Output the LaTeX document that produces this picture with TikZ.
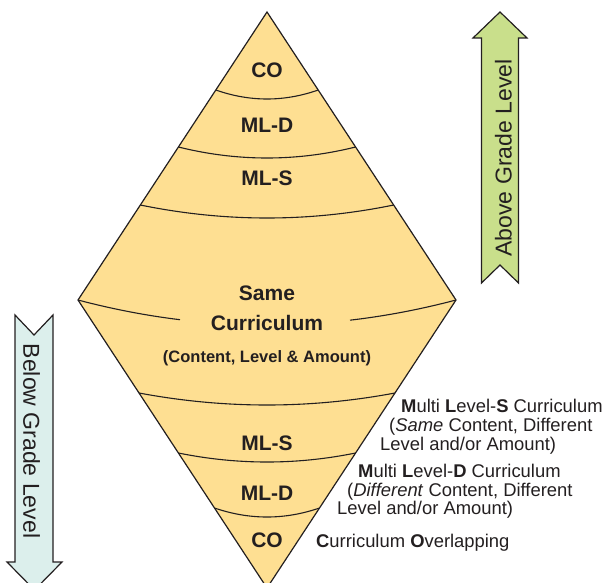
\documentclass[tikz,border=0pt]{standalone}
\usepackage{fontspec}
\setmainfont{Liberation Sans}
\definecolor{dfill}{HTML}{FEDF92}
\definecolor{gfill}{HTML}{C9DF8B}
\definecolor{bfill}{HTML}{DCEFEC}
\definecolor{ink}{HTML}{231F20}
\begin{document}
\begin{tikzpicture}[x=1pt,y=-1pt,
  outl/.style={draw=ink, line width=1.2pt, line join=miter},
  arcline/.style={draw=ink, line width=1.1pt},
  biglabel/.style={anchor=base, inner sep=0pt, text=ink, font=\fontsize{21}{25}\selectfont\bfseries},
  smalllabel/.style={anchor=base, inner sep=0pt, text=ink, font=\fontsize{16.5}{20}\selectfont\bfseries},
  sidelabel/.style={anchor=base west, inner sep=0pt, text=ink, font=\fontsize{18.4}{22}\selectfont},
  arrowtext/.style={anchor=base, inner sep=0pt, text=ink, font=\fontsize{23}{27}\selectfont}]
\useasboundingbox (0,0) rectangle (605,583);
% diamond
\fill[dfill] (267,12) -- (456,300) -- (267,588) -- (78,300) -- cycle;
% top arcs
\draw[arcline] plot[domain=215.8:318.2, samples=40, smooth] (\x, {90+9*(1-((\x-267)/51.2)^2)});
\draw[arcline] plot[domain=178.4:355.6, samples=40, smooth] (\x, {147+11*(1-((\x-267)/88.6)^2)});
\draw[arcline] plot[domain=140.3:393.7, samples=40, smooth] (\x, {205+13*(1-((\x-267)/126.7)^2)});
% middle arc (interrupted)
\draw[arcline] plot[domain=78:180, samples=30, smooth] (\x, {300+25*(1-((\x-267)/189)^2)});
\draw[arcline] plot[domain=350:456, samples=30, smooth] (\x, {300+25*(1-((\x-267)/189)^2)});
% bottom arcs
\draw[arcline] plot[domain=139:395, samples=40, smooth] (\x, {393+12*(1-((\x-267)/128)^2)});
\draw[arcline] plot[domain=178.4:355.6, samples=40, smooth] (\x, {453+9*(1-((\x-267)/88.6)^2)});
\draw[arcline] plot[domain=214.5:319.5, samples=40, smooth] (\x, {508+9*(1-((\x-267)/52.5)^2)});
\draw[outl] (267,12) -- (456,300) -- (267,588) -- (78,300) -- cycle;
% labels inside diamond
\node[biglabel] (co1) at (267,78) {CO};
\node[biglabel] (mld1) at (267,132) {ML-D};
\node[biglabel] (mls1) at (267,185) {ML-S};
\node[biglabel] (same) at (267,300) {Same};
\node[biglabel] (curr) at (267,330) {Curriculum};
\node[smalllabel] (cont) at (267,362) {(Content, Level \& Amount)};
\node[biglabel] (mls2) at (267,450) {ML-S};
\node[biglabel] (mld2) at (267,500) {ML-D};
\node[biglabel] (co2) at (267,547) {CO};
% side labels
\node[sidelabel] (s1a) at (401,412) {\textbf{M}ulti \textbf{L}evel-\textbf{S} Curriculum};
\node[sidelabel] (s1b) at (389,431) {(\textit{Same} Content, Different};
\node[sidelabel] (s1c) at (380,450) {Level and/or Amount)};
\node[sidelabel] (s2a) at (358,477) {\textbf{M}ulti \textbf{L}evel-\textbf{D} Curriculum};
\node[sidelabel] (s2b) at (347,496) {(\textit{Different} Content, Different};
\node[sidelabel] (s2c) at (337,514) {Level and/or Amount)};
\node[sidelabel] (s3) at (316,547) {\textbf{C}urriculum \textbf{O}verlapping};
% up arrow
\filldraw[fill=gfill, outl] (500,12) -- (527,38) -- (518.5,38) -- (518.5,283) -- (500,265) -- (481.5,283) -- (481.5,38) -- (473,38) -- cycle;
\node[arrowtext, rotate=90] (above) at (511.5,158) {Above Grade Level};
% down arrow
\filldraw[fill=bfill, outl] (15,315) -- (34,335) -- (53,315) -- (53,562) -- (62,562) -- (34.5,590) -- (7,562) -- (15,562) -- cycle;
\node[arrowtext, rotate=-90] (below) at (23.5,441) {Below Grade Level};
\end{tikzpicture}
\end{document}
